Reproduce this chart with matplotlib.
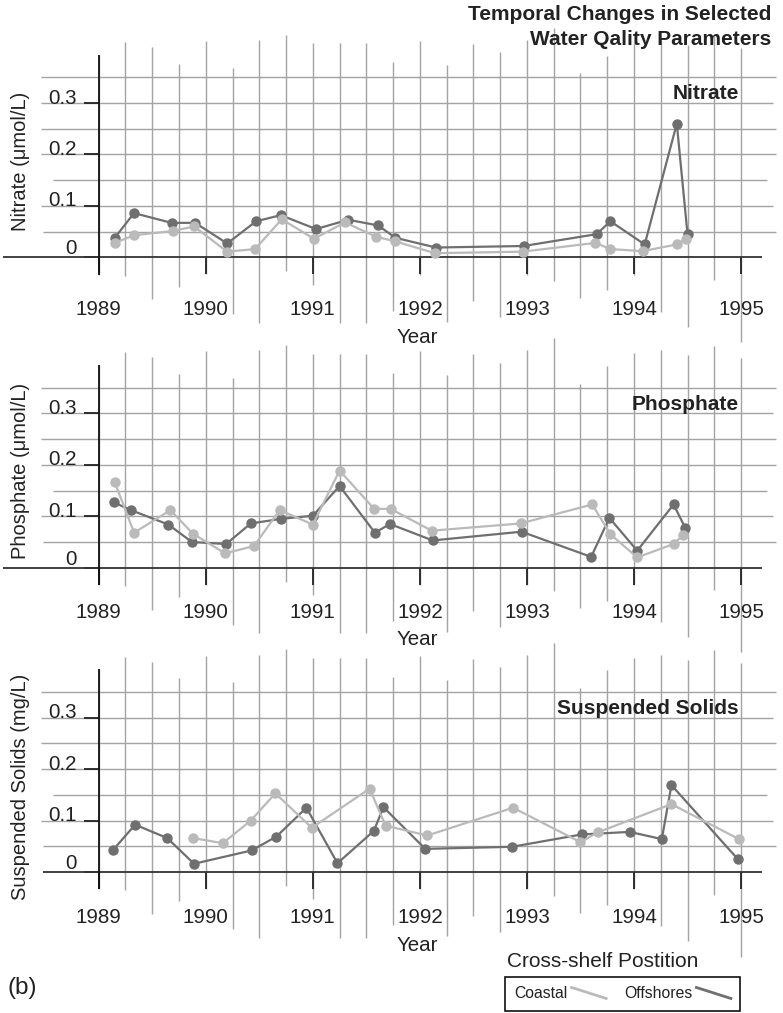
import matplotlib
matplotlib.use('Agg')
import matplotlib.pyplot as plt
from matplotlib.transforms import ScaledTranslation
from matplotlib.lines import Line2D
from matplotlib.legend_handler import HandlerBase

plt.rcParams['font.family'] = ['Liberation Sans', 'DejaVu Sans']

# ---- data ----
nitrate_off_yr = [1989.15, 1989.33, 1989.68, 1989.90, 1990.20, 1990.47, 1990.70, 1991.03, 1991.33,
                  1991.61, 1991.77, 1992.15, 1992.97, 1993.65, 1993.78, 1994.10, 1994.40, 1994.50]
nitrate_off = [0.038, 0.086, 0.067, 0.067, 0.027, 0.070, 0.082, 0.055, 0.073,
               0.062, 0.038, 0.019, 0.022, 0.045, 0.070, 0.025, 0.260, 0.045]
nitrate_coa_yr = [1989.15, 1989.33, 1989.69, 1989.89, 1990.20, 1990.46, 1990.71, 1991.01, 1991.30,
                  1991.59, 1991.77, 1992.14, 1992.96, 1993.64, 1993.78, 1994.08, 1994.40, 1994.49]
nitrate_coa = [0.028, 0.043, 0.051, 0.060, 0.011, 0.016, 0.074, 0.036, 0.068,
               0.040, 0.031, 0.008, 0.011, 0.028, 0.016, 0.012, 0.025, 0.036]

phos_off_yr = [1989.14, 1989.30, 1989.65, 1989.87, 1990.19, 1990.42, 1990.70, 1991.00, 1991.25,
               1991.58, 1991.72, 1992.12, 1992.95, 1993.60, 1993.77, 1994.03, 1994.37, 1994.48]
phos_off = [0.127, 0.112, 0.084, 0.050, 0.046, 0.086, 0.095, 0.101, 0.159,
            0.068, 0.085, 0.053, 0.070, 0.021, 0.097, 0.033, 0.123, 0.077]
phos_coa_yr = [1989.15, 1989.33, 1989.67, 1989.88, 1990.18, 1990.45, 1990.69, 1991.00, 1991.25,
               1991.57, 1991.73, 1992.11, 1992.94, 1993.61, 1993.78, 1994.03, 1994.37, 1994.46]
phos_coa = [0.166, 0.068, 0.112, 0.066, 0.028, 0.042, 0.112, 0.084, 0.189,
            0.115, 0.114, 0.072, 0.086, 0.123, 0.065, 0.020, 0.046, 0.064]

ss_off_yr = [1989.13, 1989.34, 1989.64, 1989.89, 1990.43, 1990.66, 1990.94, 1991.23, 1991.57,
             1991.66, 1992.05, 1992.86, 1993.51, 1993.96, 1994.26, 1994.35, 1994.97]
ss_off = [0.042, 0.092, 0.066, 0.016, 0.042, 0.069, 0.125, 0.017, 0.080,
          0.126, 0.045, 0.049, 0.073, 0.078, 0.064, 0.169, 0.025]
ss_coa_yr = [1989.88, 1990.16, 1990.42, 1990.65, 1990.99, 1991.53, 1991.68, 1992.07, 1992.87,
             1993.50, 1993.66, 1994.35, 1994.98]
ss_coa = [0.066, 0.056, 0.100, 0.153, 0.086, 0.162, 0.090, 0.071, 0.125,
          0.058, 0.077, 0.132, 0.064]

years = [1989, 1990, 1991, 1992, 1993, 1994, 1995]
yticks = [0, 0.1, 0.2, 0.3]
ytick_labels = ['0', '0.1', '0.2', '0.3']

# ---- style ----
DARK = '#6f6f6f'
LIGHT = '#bababa'
GRID = '#a3a3a3'
INK = '#222222'

# the quarter-year grid lines have ragged ends in the original
v_top = [0.394, 0.419, 0.409, 0.377, 0.421, 0.369, 0.423, 0.433, 0.416, 0.416, 0.416, 0.379, 0.421,
         0.374, 0.415, 0.399, 0.423, 0.446, 0.358, 0.392, 0.417, 0.423, 0.413, 0.432, 0.407]
v_bot = [-0.034, -0.036, -0.082, -0.057, -0.033, -0.111, -0.128, -0.027, -0.053, -0.128, -0.128,
         -0.104, -0.034, -0.125, -0.085, -0.116, -0.034, -0.046, -0.079, -0.064, -0.034, -0.106,
         -0.135, -0.044, -0.165]
v_x = [1989 + i / 4 for i in range(25)]
h_y = [0.05, 0.1, 0.15, 0.2, 0.25, 0.3, 0.35]
h_left = [1988.483, 1988.458, 1988.57, 1988.458, 1988.458, 1988.458, 1988.458]
h_right = [1995.33, 1995.296, 1995.24, 1995.33, 1995.33, 1995.296, 1995.33]

panels = [
    ('Nitrate (\u03bcmol/L)', 'Nitrate', nitrate_off_yr, nitrate_off, nitrate_coa_yr, nitrate_coa,
     0.7460, 18.7, -0.445, 0.532, 1988.109),
    ('Phosphate (\u03bcmol/L)', 'Phosphate', phos_off_yr, phos_off, phos_coa_yr, phos_coa,
     0.4396, 13.7, -0.400, 0.537, 1988.109),
    ('Suspended Solids (mg/L)', 'Suspended Solids', ss_off_yr, ss_off, ss_coa_yr, ss_coa,
     0.1392, 13.7, -0.406, 0.472, 1988.483),
]

fig = plt.figure(figsize=(7.83, 10.13), dpi=100)

for ylab, title, oyr, ov, cyr, cv, bottom, xpad, xlab_y, ylab_y, zero_left in panels:
    ax = fig.add_axes([0.1261, bottom, 0.8203, 0.1776])
    ax.set_xlim(1989, 1995)
    ax.set_ylim(0, 0.35)
    for s in ax.spines.values():
        s.set_visible(False)

    ax.vlines(v_x, v_bot, v_top, colors=GRID, lw=1.0, clip_on=False, zorder=1)
    ax.hlines(h_y, h_left, h_right, colors=GRID, lw=1.0, clip_on=False, zorder=1)
    ax.hlines(0, zero_left, 1995.2, colors='#333333', lw=1.3, clip_on=False, zorder=2)
    ax.vlines(1989, -0.034, 0.394, colors='#111111', lw=1.3, clip_on=False, zorder=2)

    ax.plot(oyr, ov, '-o', color=DARK, ms=6.5, lw=1.6, clip_on=False, zorder=3)
    ax.plot(cyr, cv, '-o', color=LIGHT, ms=6.5, lw=1.6, clip_on=False, zorder=4)

    ax.set_xticks(years)
    ax.set_xticklabels([str(y) for y in years])
    ax.set_yticks(yticks)
    ax.set_yticklabels(ytick_labels)
    ax.tick_params(axis='x', direction='out', length=12, width=1.3, color=INK,
                   pad=xpad, labelsize=14.8, labelcolor=INK)
    ax.tick_params(axis='y', direction='out', length=10.6, width=1.3, color=INK,
                   pad=5, labelsize=14.8, labelcolor=INK)
    for lab, dy in zip(ax.get_yticklabels(), [7.5, 5, 5, 5]):
        lab.set_transform(lab.get_transform() + ScaledTranslation(0, dy / 72, fig.dpi_scale_trans))

    ax.set_xlabel('Year', fontsize=14.8, color=INK, va='center')
    ax.xaxis.set_label_coords(0.4956, xlab_y)
    ax.set_ylabel(ylab, fontsize=14.5, color=INK, va='center')
    ax.yaxis.set_label_coords(-0.1225, ylab_y)

    ax.text(1994.98, 0.318, title, ha='right', va='center', fontsize=15,
            fontweight='bold', color=INK, zorder=5)

fig.text(0.9847, 0.9852, 'Temporal Changes in Selected', ha='right', va='center',
         fontsize=15, fontweight='bold', color=INK)
fig.text(0.9847, 0.9615, 'Water Qality Parameters', ha='right', va='center',
         fontsize=15, fontweight='bold', color=INK)
fig.text(0.009, 0.0247, '(b)', ha='left', va='center', fontsize=17.5, color=INK)
fig.text(0.647, 0.0506, 'Cross-shelf Postition', ha='left', va='center', fontsize=15, color=INK)


class DiagHandler(HandlerBase):
    # legend keys drawn as short downward-sloping strokes, as in the original
    def create_artists(self, legend, orig_handle, xdescent, ydescent, width, height,
                       fontsize, trans):
        ln = Line2D([-xdescent, -xdescent + width], [1.0 * height - ydescent, 0.0 * height - ydescent],
                    color=orig_handle.get_color(), lw=orig_handle.get_linewidth(), transform=trans)
        return [ln]


h_coa = Line2D([], [], color=LIGHT, lw=2)
h_off = Line2D([], [], color=DARK, lw=2)
leg = fig.legend([h_coa, h_off], ['Coastal', 'Offshores'], ncol=2, markerfirst=False,
                 loc='upper left', bbox_to_anchor=(0.645, 0.0355), fontsize=11.3,
                 handlelength=2.2, handletextpad=0.25, columnspacing=1.15, borderpad=0.6,
                 borderaxespad=0, fancybox=False, framealpha=1, edgecolor='#111111',
                 handler_map={Line2D: DiagHandler()})
leg.get_frame().set_linewidth(1.2)
for t in leg.get_texts():
    t.set_color(INK)

fig.savefig('out.png', dpi=100)
